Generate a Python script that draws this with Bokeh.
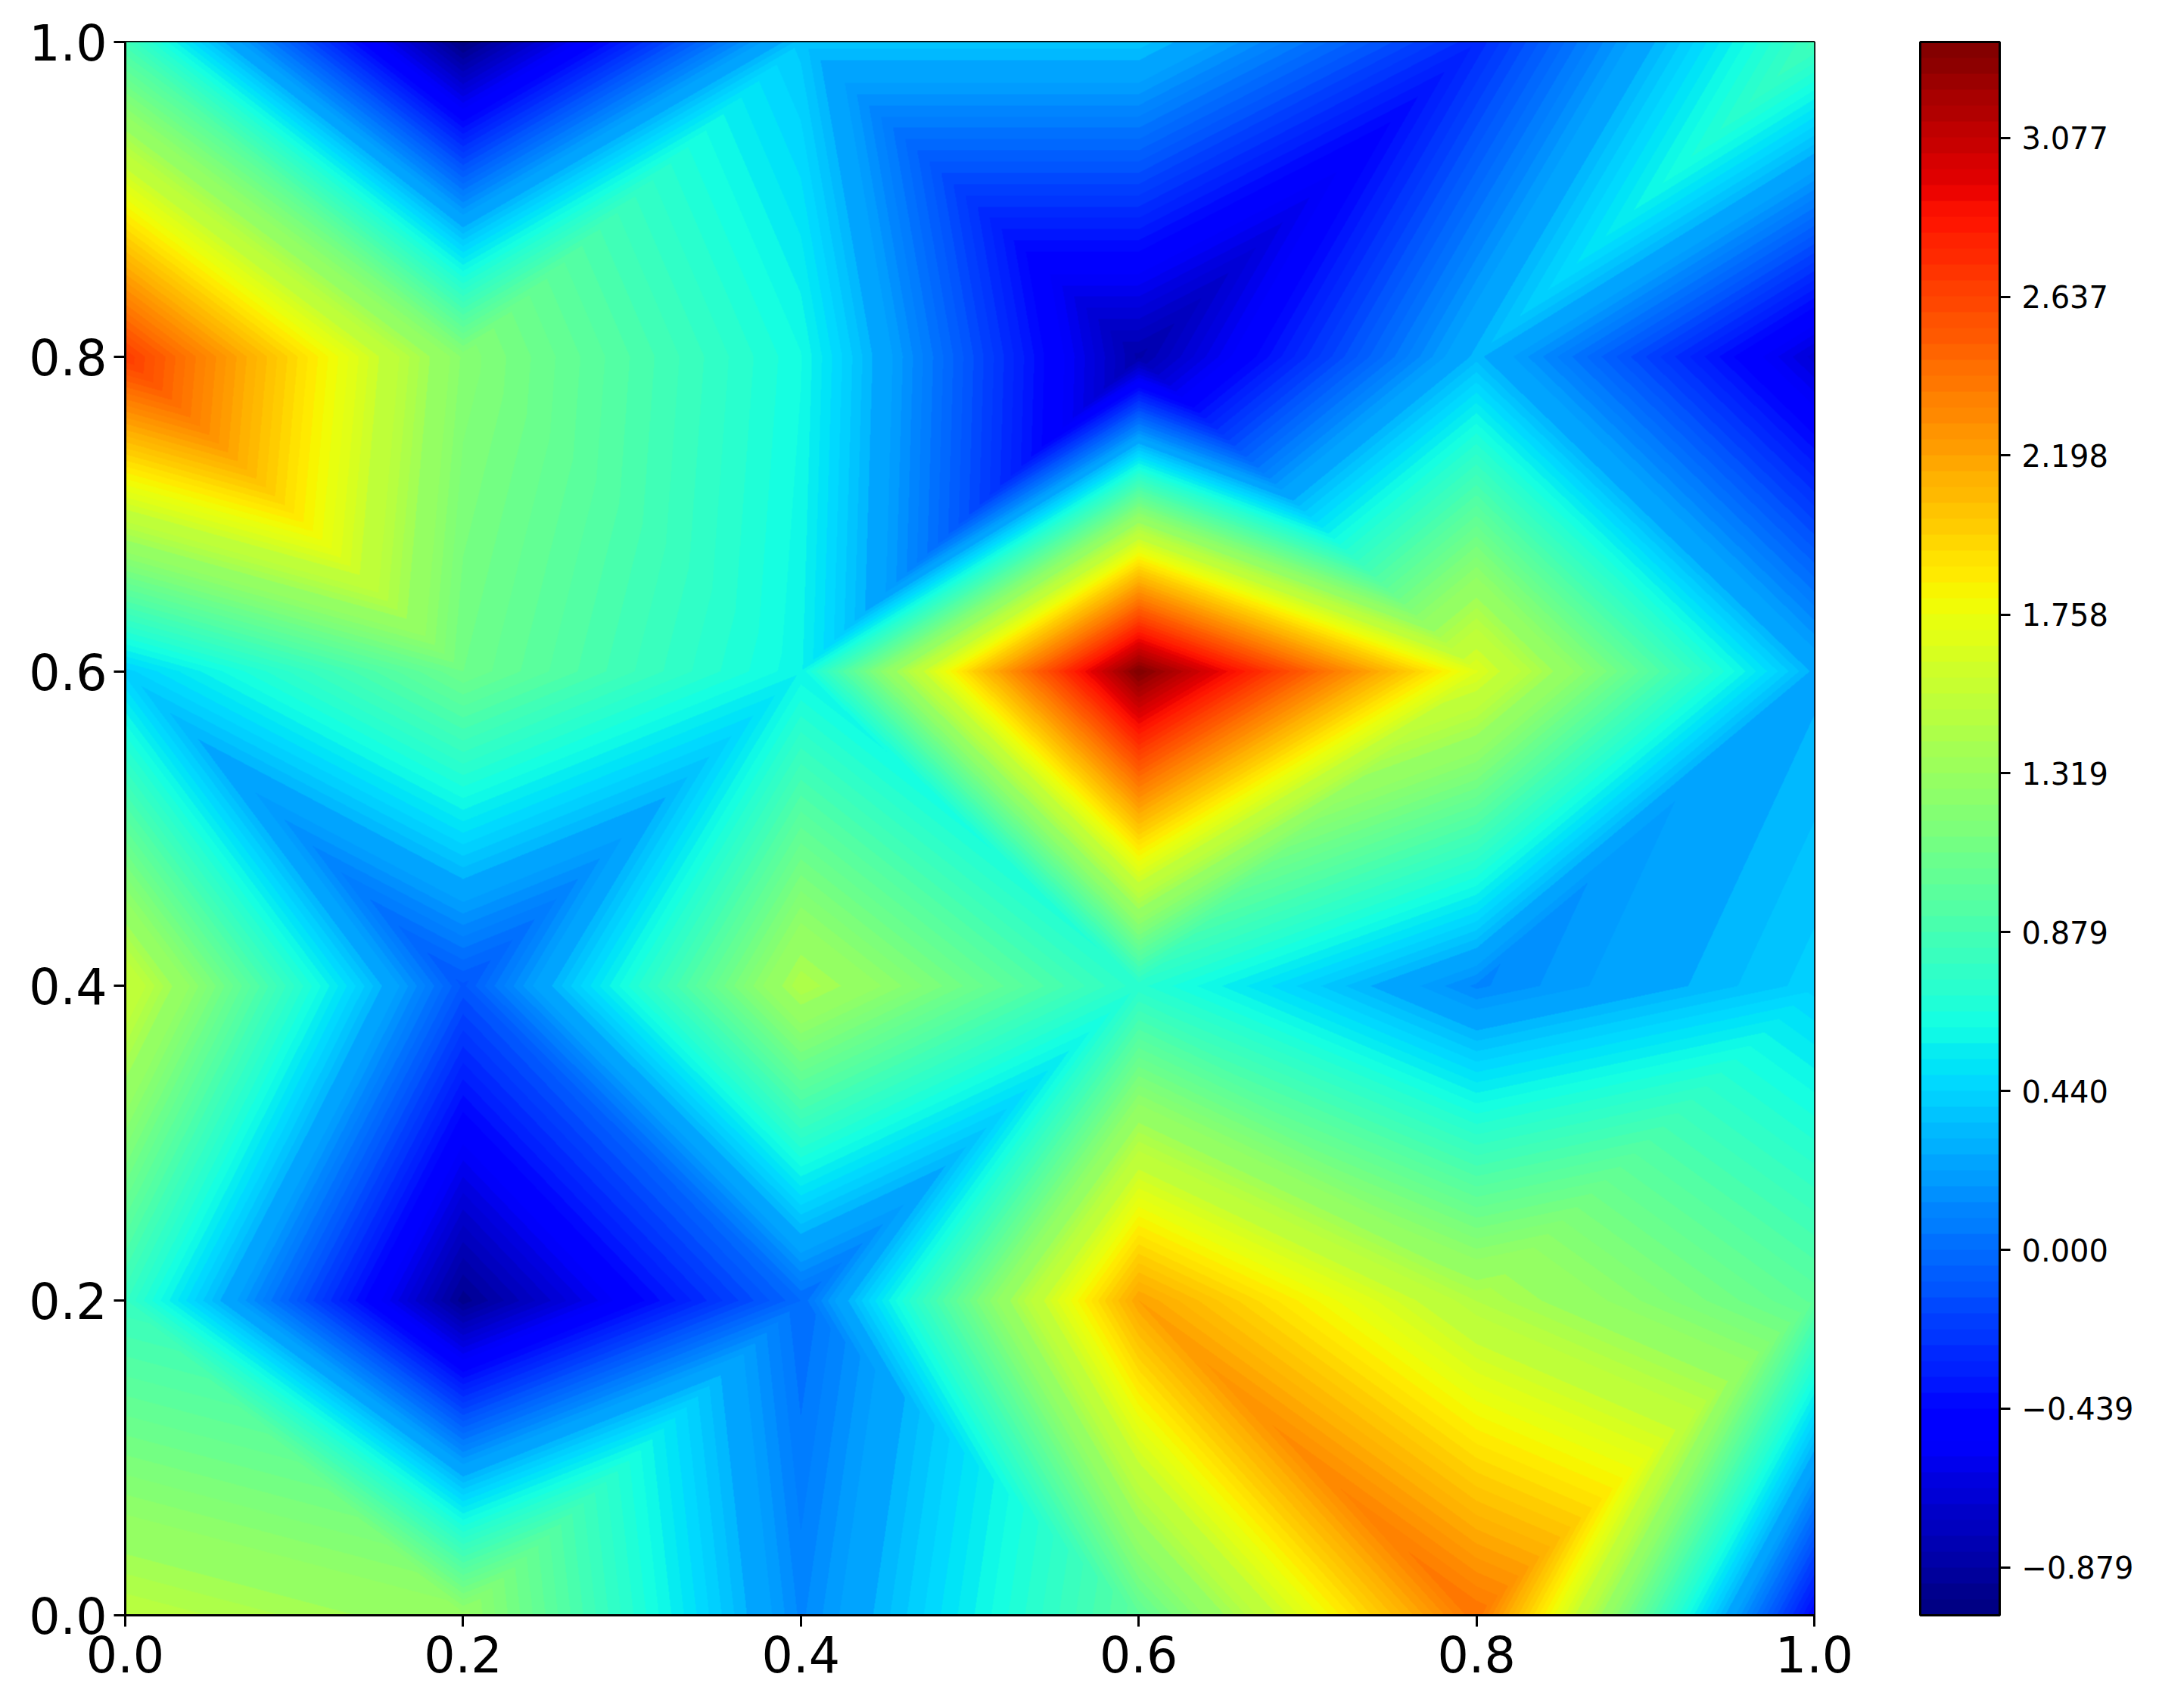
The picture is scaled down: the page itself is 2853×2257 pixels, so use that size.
import numpy as np
from bokeh.embed import file_html
from bokeh.models import ColorBar, FixedTicker, LinearColorMapper, NumeralTickFormatter, Range1d
from bokeh.plotting import figure
from bokeh.resources import INLINE

grid_x = [0.0, 0.2, 0.4, 0.6, 0.8, 1.0]
grid_y = [0.0, 0.2, 0.4, 0.6, 0.8, 1.0]

# node values, one list per row of the mesh
row_y00 = [1.50, 1.30, 0.12, 1.00, 2.42, -0.45]
row_y02 = [0.80, -0.95, 0.00, 2.20, 1.45, 1.00]
row_y04 = [1.60, -0.10, 1.45, 0.72, 0.12, 0.42]
row_y06 = [0.42, 1.10, 0.58, 3.34, 1.68, 0.29]
row_y08 = [2.68, 1.22, 0.62, -0.85, 0.33, -0.68]
row_y10 = [0.85, -1.00, 0.38, 0.38, -0.30, 0.85]

# diagonal of each mesh cell: 1 = "/", 0 = "\"
diag_y00 = [0, 1, 0, 0, 1]
diag_y02 = [1, 0, 1, 0, 1]
diag_y04 = [0, 1, 0, 1, 1]
diag_y06 = [0, 0, 1, 0, 0]
diag_y08 = [0, 1, 0, 1, 1]

level_low = -1.011
level_step = 0.04397
band_count = 99

tick_values = [-0.879, -0.439, 0.000, 0.440, 0.879, 1.319, 1.758, 2.198, 2.637, 3.077]
tick_labels = ["\u22120.879", "\u22120.439", "0.000", "0.440", "0.879", "1.319", "1.758", "2.198", "2.637", "3.077"]
axis_ticks = [0.0, 0.2, 0.4, 0.6, 0.8, 1.0]

Z = np.array([row_y00, row_y02, row_y04, row_y06, row_y08, row_y10])
D = np.array([diag_y00, diag_y02, diag_y04, diag_y06, diag_y08])


def jet(t):
    xp = lambda pts: np.interp(t, [a for a, _ in pts], [b for _, b in pts])
    r = xp([(0, 0), (.35, 0), (.66, 1), (.89, 1), (1, .5)])
    g = xp([(0, 0), (.125, 0), (.375, 1), (.64, 1), (.91, 0), (1, 0)])
    b = xp([(0, .5), (.11, 1), (.34, 1), (.65, 0), (1, 0)])
    return "#%02x%02x%02x" % (int(round(r * 255)), int(round(g * 255)), int(round(b * 255)))


palette = [jet(min(int((k + .5) / band_count * 256), 255) / 255) for k in range(band_count)]

W, H = 2232, 2079
px = (np.arange(W) + .5) / W
py = (np.arange(H) + .5) / H
X, Y = np.meshgrid(px, py)
cx = np.minimum((X / 0.2).astype(int), 4)
cy = np.minimum((Y / 0.2).astype(int), 4)
tx = X / 0.2 - cx
ty = Y / 0.2 - cy
v00, v10 = Z[cy, cx], Z[cy, cx + 1]
v01, v11 = Z[cy + 1, cx], Z[cy + 1, cx + 1]
up = D[cy, cx] == 1
fwd = np.where(tx > ty, v00 + tx * (v10 - v00) + ty * (v11 - v10), v00 + ty * (v01 - v00) + tx * (v11 - v01))
back = np.where(tx + ty < 1, v00 + tx * (v10 - v00) + ty * (v01 - v00), v11 + (1 - tx) * (v01 - v11) + (1 - ty) * (v10 - v11))
field = np.where(up, fwd, back)
bands = np.clip(np.floor((field - level_low) / level_step), 0, band_count - 1).astype(np.uint8)

p = figure(frame_width=W, frame_height=H, x_range=Range1d(0, 1), y_range=Range1d(0, 1),
           toolbar_location=None, output_backend="svg",
           min_border_left=165, min_border_top=55, min_border_bottom=100, min_border_right=0)
p.grid.visible = False
band_mapper = LinearColorMapper(palette=palette, low=0, high=band_count)
p.image(image=[bands], x=0, y=0, dw=1, dh=1, color_mapper=band_mapper)

for ax in (p.xaxis[0], p.yaxis[0]):
    ax.ticker = FixedTicker(ticks=axis_ticks)
    ax.formatter = NumeralTickFormatter(format="0.0")
    ax.major_label_text_font = "DejaVu Sans"
    ax.major_label_text_font_size = "65px"
    ax.major_label_text_color = "black"
    ax.major_tick_in = 0
    ax.major_tick_out = 15
    ax.minor_tick_line_color = None
    ax.major_tick_line_width = 3
    ax.major_tick_line_color = "black"
    ax.axis_line_width = 3
    ax.axis_line_color = "black"
p.xaxis[0].major_label_standoff = 11
p.yaxis[0].major_label_standoff = 9
p.outline_line_color = "black"
p.outline_line_width = 3
p.outline_line_alpha = 1
p.background_fill_color = "white"

value_mapper = LinearColorMapper(palette=palette, low=level_low, high=level_low + band_count * level_step)
cb = ColorBar(color_mapper=value_mapper, width=105, height=H, margin=0, padding=0,
              location=(140, 0),
              ticker=FixedTicker(ticks=tick_values),
              major_label_overrides={v: s for v, s in zip(tick_values, tick_labels)},
              major_label_text_font="DejaVu Sans", major_label_text_font_size="40px",
              major_label_text_color="black", major_tick_in=0, major_tick_out=14,
              major_tick_line_color="black", major_tick_line_width=3,
              minor_tick_line_color=None, bar_line_color="black", bar_line_width=3,
              label_standoff=15, background_fill_color=None, border_line_color=None)
p.add_layout(cb, "right")
p.min_border_right = 456

open("out.html", "w").write(file_html(p, INLINE))
